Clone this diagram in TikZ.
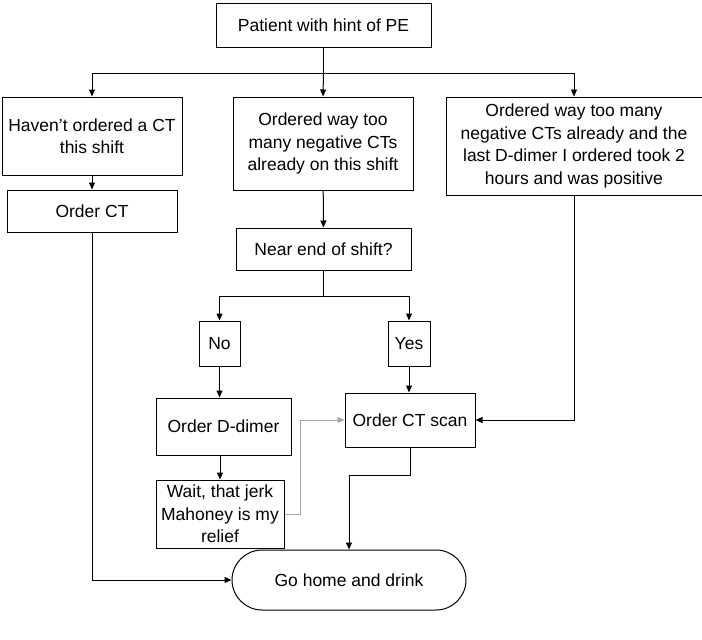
\documentclass[tikz,border=0pt]{standalone}
\usepackage{fontspec}
\setmainfont{Liberation Sans}
\usetikzlibrary{arrows.meta,shapes.misc}
\begin{document}
\begin{tikzpicture}[x=1pt,y=-1pt,
  box/.style={draw,line width=1pt,align=center,inner sep=0pt,font=\fontsize{17.5}{22.5}\selectfont},
  arr/.style={line width=1pt,-{Triangle[length=7pt,width=6pt]}},
  ln/.style={line width=1pt},
  grayarr/.style={draw=gray!70,line width=0.8pt,-{Triangle[length=7pt,width=6pt]}}]
\useasboundingbox (0,0) rectangle (702,640);
\node[box,minimum width=215,minimum height=44] (p) at (323.5,25) {Patient with hint of PE};
\node[box,minimum width=180,minimum height=78] (a) at (92,136) {Haven't ordered a CT\\this shift};
\node[box,minimum width=180,minimum height=93] (b) at (323,143.5) {Ordered way too\\many negative CTs\\already on this shift};
\node[box,minimum width=256,minimum height=98] (c) at (574,146) {Ordered way too many\\negative CTs already and the\\last D-dimer I ordered took 2\\hours and was positive};
\node[box,minimum width=170,minimum height=42] (oct) at (92,211) {Order CT};
\node[box,minimum width=175,minimum height=42] (ne) at (323.5,249) {Near end of shift?};
\node[box,minimum width=41,minimum height=45] (no) at (219.5,343.5) {No};
\node[box,minimum width=42,minimum height=45] (yes) at (409,343.5) {Yes};
\node[box,minimum width=135,minimum height=57] (dd) at (223.5,426.5) {Order D-dimer};
\node[box,minimum width=130,minimum height=54] (cts) at (410,420) {Order CT scan};
\node[box,minimum width=128,minimum height=68] (w) at (220,514) {Wait, that jerk\\Mahoney is my\\relief};
\node[box,rounded rectangle,minimum width=234,minimum height=60] (g) at (349,580) {Go home and drink};
\coordinate (s1) at (323.5,73);
\draw[ln] (p.south) -- (s1);
\draw[arr] (s1) -| (a.north);
\draw[arr] (s1) -- (b.north);
\draw[arr] (s1) -| (c.north);
\draw[arr] (a) -- (oct);
\draw[arr] (b) -- (ne);
\coordinate (s2) at (323.5,296);
\draw[ln] (ne.south) -- (s2);
\draw[arr] (s2) -| (no.north);
\draw[arr] (s2) -| (yes.north);
\draw[arr] (no) -- (dd.north -| no);
\draw[arr] (yes) -- (yes |- cts.north);
\draw[arr] (dd.south -| w) -- (w.north);
\draw[arr] (c.south) |- (cts.east);
\draw[grayarr] (w.east) -- ++(16,0) |- (cts.west);
\coordinate (s3) at (349,475);
\draw[ln] (cts.south) |- (s3);
\draw[arr] (s3) -- (g.north);
\draw[arr] (oct.south) |- (g.west);
\end{tikzpicture}
\end{document}
